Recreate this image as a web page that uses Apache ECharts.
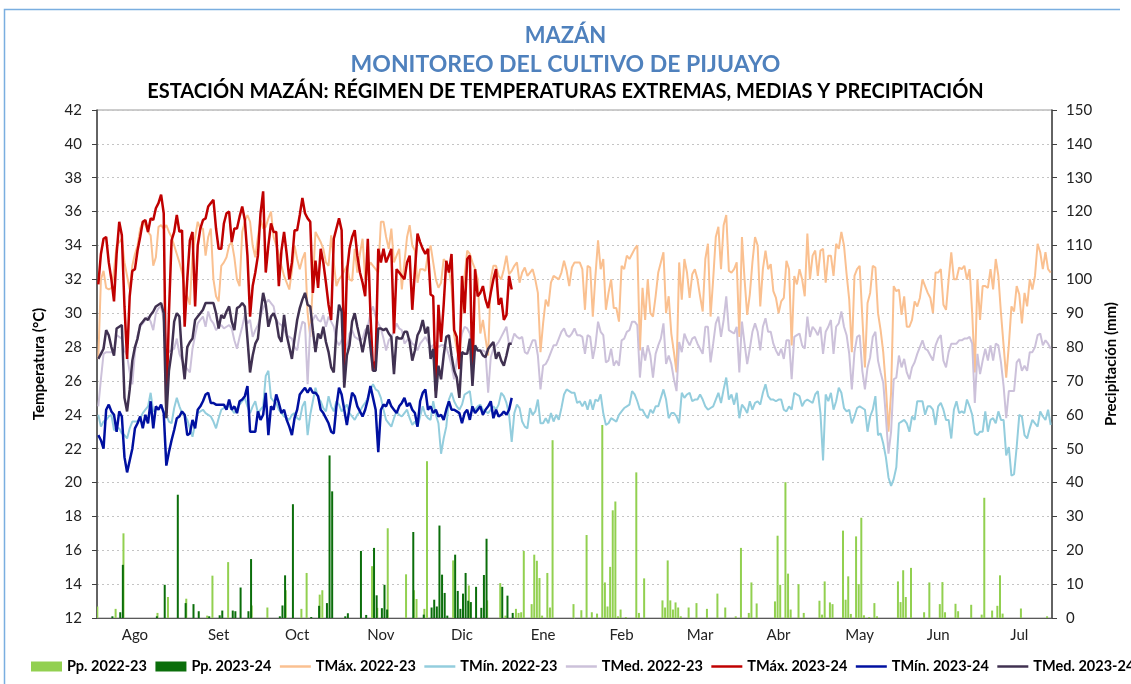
<!DOCTYPE html>
<html>
<head>
<meta charset="utf-8">
<script src="https://cdn.jsdelivr.net/npm/echarts@6/dist/echarts.min.js"></script>
<style>
html, body { margin: 0; padding: 0; background: #fff; }
#chart { width: 1131px; height: 684px; }
</style>
</head>
<body>
<div id="chart"></div>
<script>
// ejes: campaña agosto - julio, un dato por día
const meses = ['Ago', 'Set', 'Oct', 'Nov', 'Dic', 'Ene', 'Feb', 'Mar', 'Abr', 'May', 'Jun', 'Jul'];
const diasPorMes = [31, 30, 31, 30, 31, 31, 28, 31, 30, 31, 30, 31];
// día donde va la etiqueta de cada mes
const etiquetasMes = ['Ago-15', 'Set-16', 'Oct-16', 'Nov-17', 'Dic-18', 'Ene-18', 'Feb-17', 'Mar-19', 'Abr-18', 'May-19', 'Jun-18', 'Jul-19'];

// temperaturas 2022-23 (°C)
const tmax2223 = [
    27.3, 32.0, 32.5, 31.5, 31.4, 31.5, 32.5, 34.0, 34.2, 34.4,
    33.0, 32.2, 31.4, 32.8, 33.5, 34.0, 35.0, 35.4, 35.2, 34.8,
    34.6, 32.8, 33.3, 35.1, 35.2, 35.0, 35.2, 34.8, 34.5, 34.0,
    33.5, 33.0, 32.4, 31.5, 31.0, 30.5, 33.5, 34.5, 35.4, 35.0,
    35.0, 33.4, 34.5, 35.0, 32.0, 31.0, 30.7, 32.8, 33.0, 33.3,
    34.0, 34.2, 33.3, 32.0, 31.6, 34.8, 35.4, 35.8, 35.4, 34.0,
    33.3, 34.5, 35.5, 35.0, 35.1, 35.6, 36.0, 34.5, 34.0, 33.5,
    32.8, 32.2, 31.8, 31.4, 32.5, 34.0, 33.2, 32.6, 33.2, 33.6,
    30.0, 28.6, 31.8, 34.8, 34.5, 34.2, 33.8, 33.0, 32.8, 34.6,
    33.0, 31.6, 32.0, 32.2, 32.5, 32.8, 32.0, 31.9, 33.8, 32.4,
    33.5, 34.4, 32.0, 32.6, 33.0, 32.8, 32.6, 32.4, 35.4, 35.4,
    34.5, 33.8, 35.0, 33.0, 33.4, 33.8, 31.4, 33.0, 34.5, 35.2,
    34.0, 33.7, 31.8, 32.6, 32.6, 32.5, 33.5, 34.0, 33.0, 32.0,
    31.5, 31.8, 33.2, 33.0, 32.6, 31.6, 28.7, 27.9, 27.3, 30.5,
    32.2, 33.7, 33.5, 33.0, 32.6, 32.0, 28.8, 29.6, 28.5, 27.5,
    32.0, 32.8, 32.8, 32.2, 32.0, 32.6, 33.4, 32.3, 32.5, 32.8,
    33.0, 31.8, 32.4, 32.7, 32.2, 32.4, 32.6, 32.0, 31.2, 27.7,
    29.4, 30.8, 30.4, 31.8, 32.2, 32.1, 32.0, 32.4, 33.1, 32.5,
    31.6, 32.7, 33.0, 33.0, 33.0, 32.6, 30.2, 32.8, 32.7, 29.8,
    32.2, 34.3, 32.6, 33.2, 30.2, 31.2, 32.0, 30.3, 30.3, 29.5,
    32.8, 32.6, 33.4, 33.2, 33.5, 33.8, 34.0, 27.8, 31.5, 29.6,
    32.0, 30.0, 29.8, 31.0, 32.4, 33.0, 33.6, 30.0, 31.0, 28.8,
    27.7, 26.5, 33.0, 30.8, 33.2, 32.4, 30.9, 32.3, 32.6, 32.0,
    31.0, 30.1, 33.2, 34.1, 29.8, 32.0, 34.5, 35.1, 32.6, 35.2,
    35.8, 32.5, 32.4, 32.6, 33.0, 28.6, 34.5, 32.0, 29.9, 31.1,
    33.0, 34.5, 34.0, 30.4, 32.6, 33.7, 32.6, 32.9, 31.3, 30.9,
    30.0, 30.7, 30.9, 33.1, 32.6, 28.1, 32.2, 31.7, 32.6, 32.0,
    31.0, 34.7, 32.0, 33.4, 33.7, 32.2, 33.7, 33.8, 31.8, 33.4,
    33.4, 32.2, 34.1, 33.8, 34.8, 34.0, 32.3, 30.8, 27.7, 32.2,
    32.6, 32.8, 29.8, 26.8, 30.6, 31.2, 32.8, 32.7, 30.0, 29.0,
    27.7, 25.7, 23.0, 25.3, 31.6, 31.3, 31.4, 29.9, 31.0, 29.2,
    29.2, 29.6, 30.7, 30.4, 30.9, 32.0, 31.6, 31.2, 30.9, 30.0,
    32.4, 32.4, 32.6, 30.5, 30.2, 32.0, 33.6, 32.0, 32.0, 32.7,
    32.6, 32.8, 32.0, 32.6, 30.0, 26.5, 32.0, 29.6, 31.6, 31.6,
    31.5, 32.6, 31.4, 33.2, 32.2, 30.0, 28.1, 26.2, 28.1, 30.4,
    30.1, 31.6, 31.1, 29.4, 31.2, 30.4, 32.0, 31.4, 32.2, 34.1,
    33.6, 32.6, 33.6, 32.6, 32.4
];
const tmin2223 = [
    24.0, 23.3, 23.6, 23.7, 23.9, 24.0, 23.1, 23.2, 23.2, 22.9,
    22.8, 22.6, 23.2, 23.6, 23.6, 23.6, 23.8, 24.1, 24.3, 24.5,
    25.3, 24.2, 24.3, 24.4, 24.5, 24.2, 24.0, 23.6, 23.5, 24.4,
    25.0, 24.5, 24.1, 24.0, 23.7, 23.2, 22.7, 23.5, 24.1, 24.2,
    24.3, 24.1, 24.0, 23.9, 23.6, 23.2, 23.8, 24.3, 24.4, 24.5,
    24.5, 24.3, 24.1, 24.4, 24.6, 24.8, 25.0, 24.5, 24.1, 24.5,
    24.8, 24.1, 24.3, 24.5, 26.3, 26.6, 25.0, 24.8, 24.7, 24.3,
    24.1, 23.9, 23.8, 23.7, 24.0, 24.1, 23.8, 23.7, 24.5, 24.8,
    22.8, 24.0, 24.8, 25.6, 25.0, 24.8, 24.4, 24.2, 25.1, 24.5,
    24.2, 24.8, 24.6, 24.2, 24.4, 24.6, 24.1, 23.9, 23.7, 24.0,
    24.2, 24.5, 24.7, 25.0, 25.5, 25.8, 25.5, 25.4, 25.0, 24.3,
    23.7, 23.5, 23.3, 23.8, 24.2, 24.0, 23.9, 24.1, 24.3, 23.8,
    23.4, 23.6, 23.3, 23.9, 24.5, 24.0, 23.8, 23.7, 24.8, 24.0,
    23.5, 21.7, 22.6, 23.3, 24.9, 25.3, 24.8, 24.5, 24.3, 24.6,
    25.2, 25.3, 25.4, 24.2, 24.3, 24.5, 24.6, 24.3, 24.2, 24.1,
    24.3, 24.5, 24.3, 24.6, 25.3, 25.1, 24.7, 24.0, 22.4, 24.1,
    24.6, 24.4, 23.6, 23.3, 23.2, 24.4, 24.0, 24.2, 24.9, 23.5,
    23.5, 23.8, 23.5, 24.1, 23.6, 24.0, 23.7, 24.4, 25.2, 25.5,
    25.4, 25.3, 25.3, 24.7, 24.8, 24.5, 24.8, 24.3, 24.9, 24.3,
    24.9, 24.8, 25.2, 24.1, 23.4, 23.5, 23.8, 23.7, 23.6, 24.0,
    24.2, 24.4, 24.5, 24.6, 25.4, 25.2, 24.8, 24.3, 24.3, 24.0,
    23.8, 24.3, 24.1, 24.5, 24.5, 25.0, 25.5, 24.9, 23.8, 24.1,
    24.1, 23.9, 23.5, 25.3, 25.0, 25.2, 25.3, 24.8, 24.9, 24.9,
    25.2, 24.9, 24.5, 24.3, 24.4, 24.5, 24.9, 25.3, 24.7, 25.5,
    26.2, 24.9, 25.2, 24.6, 25.3, 23.8, 24.6, 24.4, 24.1, 24.8,
    24.3, 24.7, 24.8, 24.6, 25.3, 25.8, 25.1, 24.9, 24.9, 24.8,
    24.9, 24.9, 24.3, 24.2, 24.5, 24.3, 25.3, 25.2, 25.1, 24.5,
    24.8, 24.9, 24.8, 24.7, 25.2, 25.4, 24.1, 21.3, 25.2, 24.8,
    25.3, 24.3, 24.8, 25.6, 25.3, 24.4, 24.2, 24.3, 23.5, 23.9,
    24.4, 24.5, 24.4, 24.3, 23.0, 23.9, 24.3, 25.1, 22.8, 22.9,
    22.3, 21.5, 20.3, 19.8, 20.2, 20.9, 23.5, 23.6, 23.7, 23.5,
    23.0, 23.9, 23.7, 24.8, 24.8, 24.8, 24.0, 24.5, 24.5, 24.3,
    23.4, 24.5, 24.7, 24.3, 23.7, 23.7, 22.6, 24.3, 24.8, 24.1,
    24.2, 24.1, 24.9, 24.5, 24.0, 22.9, 22.8, 23.0, 23.0, 24.2,
    23.0, 23.7, 23.8, 23.5, 24.2, 23.7, 23.7, 21.6, 22.1, 20.4,
    20.5, 22.1, 24.0, 23.9, 22.8, 22.6, 23.2, 23.7, 23.5, 23.3,
    24.2, 23.9, 23.7, 24.3, 23.4
];
const tmed2223 = [
    24.5, 26.1, 27.6, 27.7, 27.7, 27.7, 27.7, 28.7, 28.6, 28.5,
    27.8, 27.5, 26.5, 25.8, 27.7, 28.7, 29.2, 29.4, 29.6, 29.8,
    29.5, 29.0, 30.0, 30.3, 30.4, 29.6, 28.2, 27.7, 27.8, 27.9,
    28.5, 27.6, 27.2, 26.9, 26.7, 26.5, 27.9, 28.7, 29.4, 29.6,
    29.8, 29.2, 30.1, 29.6, 29.4, 29.0, 29.2, 29.3, 29.1, 29.2,
    29.3, 29.1, 28.4, 27.9, 28.6, 29.2, 29.9, 29.4, 29.6, 28.6,
    29.0, 29.3, 29.8, 30.3, 30.6, 30.8, 30.6, 30.4, 29.6, 29.4,
    29.3, 29.0, 28.7, 28.6, 28.5, 28.0, 27.8, 28.8, 29.5, 29.4,
    25.8, 29.2, 29.6, 29.9, 29.6, 29.5, 29.9, 29.2, 29.8, 29.5,
    29.2, 28.4, 28.1, 28.4, 28.6, 27.8, 28.8, 29.0, 28.6, 28.5,
    28.4, 28.5, 29.0, 29.2, 30.0, 30.4, 29.8, 29.4, 29.1, 28.5,
    27.8, 28.4, 28.6, 28.9, 29.4, 29.1, 29.0, 28.2, 28.4, 28.5,
    28.2, 28.1, 27.8, 28.2, 28.4, 28.6, 28.3, 28.0, 28.1, 28.3,
    28.0, 28.1, 28.1, 28.0, 27.5, 26.9, 26.1, 27.2, 28.0, 28.8,
    29.2, 29.1, 28.8, 27.8, 27.8, 27.8, 27.8, 27.8, 27.7, 25.3,
    27.4, 27.9, 28.1, 28.3, 28.6, 28.9, 29.2, 28.1, 28.3, 28.8,
    28.6, 28.5, 28.6, 27.7, 27.6, 28.0, 28.4, 28.4, 27.5, 25.5,
    26.9, 27.0, 27.3, 27.7, 28.1, 28.1, 28.5, 28.9, 29.1, 28.7,
    28.6, 28.8, 29.1, 28.7, 28.7, 28.6, 27.6, 28.7, 28.6, 27.3,
    28.1, 29.5, 28.9, 28.7, 27.1, 27.2, 27.9, 26.9, 27.2, 26.9,
    28.4, 28.5, 28.9, 29.0, 29.5, 29.5, 29.3, 26.2, 28.0, 27.2,
    28.1, 27.5, 26.2, 27.6, 28.1, 28.5, 29.4, 27.0, 27.5, 27.0,
    26.1, 25.4, 28.3, 27.7, 28.8, 28.4, 28.1, 28.5, 28.6, 28.2,
    27.9, 27.6, 29.2, 29.2, 27.1, 28.2, 29.4, 29.8, 28.6, 29.6,
    31.0, 29.0, 28.9, 28.8, 29.2, 26.5, 29.5, 28.2, 27.0, 27.9,
    28.9, 29.4, 28.9, 27.8, 29.2, 29.7, 28.9, 28.9, 28.2, 27.8,
    27.5, 27.9, 27.3, 28.4, 28.4, 26.1, 28.6, 28.7, 28.8, 28.1,
    27.9, 29.8, 28.6, 29.2, 29.0, 28.7, 29.2, 27.6, 28.9, 29.2,
    29.6, 27.6, 29.2, 29.4, 30.1, 29.2, 28.7, 27.6, 25.5, 27.7,
    28.6, 28.7, 26.6, 25.5, 26.8, 27.4, 28.6, 28.9, 27.2, 26.5,
    25.9, 23.9, 21.7, 23.0, 26.1, 26.2, 27.5, 26.8, 27.3, 26.5,
    26.1, 26.8, 27.1, 27.6, 28.0, 28.4, 27.9, 27.8, 27.5, 27.2,
    28.1, 28.5, 28.7, 27.2, 26.8, 27.7, 28.2, 28.2, 28.2, 28.4,
    28.4, 28.5, 28.5, 28.6, 28.2, 24.7, 27.6, 26.4, 27.2, 27.9,
    27.2, 28.1, 27.2, 28.2, 28.1, 27.1, 25.7, 23.8, 25.4, 25.4,
    25.4, 27.1, 27.3, 26.6, 26.9, 26.6, 27.7, 27.7, 28.0, 28.7,
    28.8, 28.1, 28.4, 28.2, 27.9
];

// temperaturas 2023-24 (°C), hasta inicios de enero
const tmax2324 = [
    31.7, 33.5, 34.4, 34.5, 33.0, 32.0, 30.7, 33.5, 35.4, 34.6,
    30.4, 27.3, 31.0, 32.5, 32.6, 33.7, 34.5, 35.4, 35.5, 34.8,
    35.6, 35.5, 36.2, 36.5, 37.0, 35.9, 24.1, 30.0, 34.3, 34.8,
    35.8, 34.8, 34.9, 29.2, 32.0, 34.3, 34.8, 30.4, 34.0, 35.0,
    35.5, 35.6, 36.3, 36.5, 36.7, 35.0, 33.8, 33.8, 35.3, 35.9,
    36.0, 34.2, 35.0, 35.0, 35.7, 36.3, 35.5, 33.4, 29.8, 31.6,
    32.4, 33.4, 35.9, 37.2, 32.4, 34.0, 35.3, 34.8, 34.8, 31.6,
    33.7, 34.8, 33.5, 32.0, 33.0, 34.9, 34.9, 35.8, 36.8, 35.9,
    35.6, 35.4, 31.2, 33.1, 31.5, 33.8, 33.0, 31.8, 30.5, 29.6,
    34.4, 35.0, 35.6, 34.9, 26.9, 32.4, 33.8, 34.5, 34.9, 33.4,
    32.4, 31.8, 31.0, 34.4, 30.0, 26.6, 27.2, 33.8, 33.0, 33.8,
    33.0, 33.4, 33.8, 28.8, 32.6, 32.4, 32.2, 32.0, 33.0, 33.4,
    30.2, 32.5, 34.7, 34.2, 33.8, 33.5, 33.8, 31.1, 31.0, 25.4,
    30.5, 28.3, 30.5, 33.1, 32.4, 33.5, 29.0, 28.6, 26.7, 32.2,
    30.0, 33.2, 33.4, 26.2, 32.6, 31.0, 31.2, 31.6, 30.8, 30.3,
    31.2, 32.0, 32.6, 30.5, 30.9, 29.6, 29.9, 32.2, 31.4
];
const tmin2324 = [
    22.8, 22.5, 22.0, 24.3, 24.6, 24.2, 24.0, 23.0, 24.2, 23.9,
    21.5, 20.6, 21.3, 22.0, 23.2, 23.5, 23.9, 23.2, 24.0, 23.5,
    24.8, 23.2, 24.5, 24.3, 24.6, 24.1, 21.0, 21.8, 22.5, 23.1,
    23.8, 23.9, 24.2, 24.0, 22.8, 22.9, 23.7, 23.2, 24.3, 24.5,
    24.8, 25.2, 25.3, 24.7, 24.7, 24.6, 24.6, 24.6, 24.6, 24.3,
    24.9, 24.3, 24.5, 24.1, 24.8, 24.9, 25.1, 25.7, 23.0, 23.0,
    23.0, 24.2, 23.7, 24.0, 25.3, 22.8, 24.5, 24.3, 25.2, 24.7,
    24.1, 24.3, 23.7, 23.3, 22.8, 23.8, 24.3, 25.2, 25.4, 25.6,
    25.3, 25.6, 25.3, 25.3, 25.1, 24.3, 24.1, 23.8, 23.5, 23.0,
    22.9, 24.5, 25.6, 25.2, 24.3, 23.4, 24.4, 25.3, 25.1, 24.5,
    24.2, 23.9, 24.3, 24.9, 25.7, 25.0, 24.3, 21.8, 24.3, 24.6,
    24.5, 24.9, 24.5, 24.3, 24.1, 24.5, 24.7, 25.0, 24.5, 24.7,
    24.3, 24.1, 23.3, 24.8, 25.3, 25.5, 24.3, 24.5, 24.1, 24.3,
    23.9, 24.0, 23.7, 24.3, 24.8, 24.3, 24.3, 24.2, 24.1, 23.5,
    24.1, 24.3, 23.7, 24.5, 24.1, 24.3, 24.5, 24.0, 24.3, 24.5,
    24.8, 23.8, 24.3, 23.9, 24.0, 24.2, 24.0, 24.3, 25.0
];
const tmed2324 = [
    27.3, 27.6, 27.9, 29.0, 28.7, 28.0, 27.5, 29.1, 29.2, 29.3,
    25.0, 24.2, 25.5, 27.2, 28.0, 28.5, 29.3, 29.5, 29.7, 29.6,
    29.9, 30.1, 30.4, 30.5, 30.6, 30.0, 23.8, 26.6, 27.7, 29.5,
    30.0, 29.8, 27.5, 26.1, 28.0, 28.3, 28.5, 29.6, 29.8, 30.0,
    30.2, 30.6, 30.6, 30.6, 30.6, 30.0, 29.1, 29.9, 29.7, 30.1,
    30.4, 29.5, 29.0, 30.3, 30.4, 30.6, 30.4, 28.5, 26.5, 27.5,
    28.2, 28.5, 30.0, 31.2, 30.5, 29.2, 29.8, 30.0, 29.6, 28.6,
    28.3, 29.9, 28.7, 28.0, 27.3, 28.5, 29.6, 30.3, 30.8, 31.2,
    30.5, 30.4, 29.0, 27.7, 28.8, 28.5, 29.2, 28.3, 27.7, 26.8,
    26.5, 29.0, 30.5, 30.1, 25.6, 27.5, 28.1, 29.5, 30.0, 29.2,
    28.5, 27.7, 28.5, 29.3, 28.0, 26.6, 26.6, 29.1, 29.1, 29.0,
    29.1, 28.8, 28.6, 26.4, 28.6, 28.5, 28.5, 28.9, 28.9, 28.3,
    27.2, 27.8, 28.7, 29.0, 29.6, 28.8, 29.2, 27.3, 27.9, 25.0,
    26.9, 26.1, 27.5, 28.6, 28.7, 27.5, 26.6, 26.2, 25.0, 27.7,
    27.6, 27.6, 28.5, 25.7, 28.1, 27.8, 27.8, 27.5, 27.4, 27.9,
    28.1, 28.3, 27.3, 27.7, 27.2, 26.9, 27.5, 28.2, 28.2
];

// precipitación (mm): día de la campaña (0 = 1 ago) y lámina
const ppDias2223 = [0, 7, 10, 23, 27, 34, 42, 44, 50, 59, 65, 72, 78, 80, 85, 86, 105, 107, 111, 118,
    121, 122, 125, 126, 136, 142, 149, 154, 156, 160, 161, 162, 163, 166, 167, 168, 169, 170, 172, 173,
    174, 182, 185, 187, 189, 191, 193, 194, 195, 196, 197, 198, 199, 200, 202, 206, 207, 209, 216, 217,
    218, 219, 220, 221, 222, 223, 226, 229, 233, 237, 240, 244, 246, 249, 250, 252, 259, 260, 261, 263,
    264, 265, 268, 270, 276, 277, 278, 280, 281, 285, 286, 287, 288, 290, 291, 292, 293, 295, 297, 298,
    306, 307, 308, 309, 311, 316, 318, 322, 323, 324, 328, 329, 334, 338, 339, 342, 344, 345, 346, 353, 363];
const ppMm2223 = [3.4, 2.7, 25, 1.5, 6.2, 5.7, 0.7, 12.5, 16.5, 3.7, 3.1, 8.2, 2.7, 13.3, 6.9, 8.2, 15.3, 3, 26.5, 12.9,
    8.2, 5.6, 2.7, 46.3, 17, 9.6, 5.2, 10.3, 0.7, 2.7, 1.5, 1.7, 19.8, 4.1, 18.7, 16.9, 11.8, 0.7, 13.3, 3.1,
    52.5, 4.1, 2.3, 24.5, 1.7, 1.3, 57, 10.5, 3.4, 15.1, 31.8, 34.4, 0.5, 2.5, 0.3, 43, 1.5, 11.7, 5.2, 3.1,
    17, 5.2, 2.5, 4.6, 3.1, 0.5, 3.1, 4.4, 2.7, 7.2, 3.1, 0.5, 20.7, 1.5, 10.5, 4.3, 4.9, 24.3, 9.8, 40.1,
    13.1, 2.5, 10, 1.5, 5.1, 1, 10.8, 4.6, 4.1, 25.8, 5.4, 12.3, 1.2, 24.1, 10, 29.6, 0.8, 0.3, 4.4, 0.5,
    10.8, 4.7, 14.1, 6.2, 14.8, 1.7, 10.5, 4.1, 10.6, 1.7, 4.2, 2, 3.9, 1, 35.5, 2.2, 3.6, 12.6, 1.3, 2.8, 0.5];
const ppDias2324 = [5, 8, 9, 22, 25, 30, 33, 36, 38, 42, 46, 47, 51, 52, 54, 57, 58, 69, 70, 71,
    74, 81, 84, 87, 88, 89, 94, 95, 100, 102, 105, 106, 108, 109, 110, 120, 124, 127, 128, 129,
    130, 131, 132, 133, 136, 137, 138, 139, 140, 141, 142, 144, 146, 147, 148, 154, 156, 158];
const ppMm2324 = [0.5, 1.7, 15.7, 0.5, 9.8, 36.4, 4.4, 4.1, 2, 0.5, 0.8, 2.2, 2.2, 2, 9, 2, 17.4, 0.5, 3.7, 12.6,
    33.6, 0.3, 3.6, 4.4, 48, 37.4, 0.5, 1.4, 19.8, 0.9, 20.7, 6.7, 2.9, 9.8, 2.5, 25.4, 1, 3.1, 5.4, 3.4,
    27.3, 12.8, 7.4, 0.7, 18.7, 8, 2.7, 7.2, 13.3, 5.1, 4.7, 9.2, 3, 12.7, 23.4, 9.2, 6.6, 1.5];

const dias = [];
meses.forEach((m, i) => {
    for (let d = 1; d <= diasPorMes[i]; d++) dias.push(m + '-' + d);
});

function serieDiaria(indices, valores) {
    const out = new Array(dias.length).fill(null);
    indices.forEach((d, i) => { out[d] = valores[i]; });
    return out;
}
const pp2223 = serieDiaria(ppDias2223, ppMm2223);
const pp2324 = serieDiaria(ppDias2324, ppMm2324);

const FONT = 'Lato';
const ICONO_LINEA = 'path://M0,0H30V2.4H0Z';
const chart = echarts.init(document.getElementById('chart'));

function linea(name, data, color, width) {
    return {
        name, type: 'line', data, symbol: 'none', yAxisIndex: 0,
        lineStyle: { color, width }, itemStyle: { color }
    };
}

chart.setOption({
    animation: false,
    backgroundColor: '#fff',
    title: [
        { text: 'MAZÁN', left: 'center', top: 20, textStyle: { fontFamily: FONT, fontSize: 22, fontWeight: 'bold', color: '#4f81bd' } },
        { text: 'MONITOREO DEL CULTIVO DE PIJUAYO', left: 'center', top: 48, textStyle: { fontFamily: FONT, fontSize: 23, fontWeight: 'bold', color: '#4f81bd' } },
        { text: 'ESTACIÓN MAZÁN: RÉGIMEN DE TEMPERATURAS EXTREMAS, MEDIAS Y PRECIPITACIÓN', left: 'center', top: 77, textStyle: { fontFamily: FONT, fontSize: 20, fontWeight: 'bold', color: '#000' } }
    ],
    // marco del gráfico (borde izquierdo y superior visibles)
    graphic: [{
        type: 'polyline', z: -1, silent: true,
        shape: { points: [[4.5, 690], [4.5, 9.5], [1120, 9.5]] },
        style: { fill: 'none', stroke: '#7aaee0', lineWidth: 1.5 }
    }],
    legend: {
        left: 26, top: 654, width: 1400,
        itemWidth: 31, itemHeight: 10, itemGap: 8.5,
        textStyle: { fontFamily: FONT, fontSize: 14.5, fontWeight: 'bold', color: '#000' },
        data: [
            { name: 'Pp. 2022-23', icon: 'rect' },
            { name: 'Pp. 2023-24', icon: 'rect' },
            { name: 'TMáx. 2022-23', icon: ICONO_LINEA },
            { name: 'TMín. 2022-23', icon: ICONO_LINEA },
            { name: 'TMed. 2022-23', icon: ICONO_LINEA },
            { name: 'TMáx. 2023-24', icon: ICONO_LINEA },
            { name: 'TMín. 2023-24', icon: ICONO_LINEA },
            { name: 'TMed. 2023-24', icon: ICONO_LINEA }
        ]
    },
    grid: { left: 97, right: 79, top: 110, bottom: 66, show: true, borderColor: '#9a9a9a', borderWidth: 1 },
    xAxis: {
        type: 'category', data: dias, boundaryGap: true,
        axisLine: { lineStyle: { color: '#595959', width: 1 } },
        axisTick: { interval: (i) => i % 31 === 0, length: 5, lineStyle: { color: '#595959' } },
        axisLabel: {
            interval: (i, v) => etiquetasMes.indexOf(v) >= 0,
            formatter: (v) => v.split('-')[0],
            fontFamily: FONT, fontSize: 15, color: '#222', margin: 10
        },
        splitLine: { show: false }
    },
    yAxis: [{
        type: 'value', min: 12, max: 42, interval: 2, position: 'left',
        name: 'Temperatura (°C)', nameLocation: 'middle', nameGap: 50, nameRotate: 90,
        nameTextStyle: { fontFamily: FONT, fontSize: 15, fontWeight: 'bold', color: '#000' },
        axisLine: { show: true, lineStyle: { color: '#404040', width: 1.5 } },
        axisTick: { show: true, length: 5, lineStyle: { color: '#404040' } },
        axisLabel: { fontFamily: FONT, fontSize: 15, color: '#222', margin: 15 },
        splitLine: { show: true, lineStyle: { color: '#c4c4c4', type: [2, 3], width: 1 } }
    }, {
        type: 'value', min: 0, max: 150, interval: 10, position: 'right',
        name: 'Precipitación (mm)', nameLocation: 'middle', nameGap: 52, nameRotate: 90,
        nameTextStyle: { fontFamily: FONT, fontSize: 15, fontWeight: 'bold', color: '#000' },
        axisLine: { show: true, lineStyle: { color: '#404040', width: 1.5 } },
        axisTick: { show: true, length: 5, lineStyle: { color: '#404040' } },
        axisLabel: { fontFamily: FONT, fontSize: 15, color: '#222', margin: 14 },
        splitLine: { show: false }
    }],
    series: [
        { name: 'Pp. 2022-23', type: 'bar', yAxisIndex: 1, data: pp2223, barWidth: 2, barGap: '0%', itemStyle: { color: '#92d050' } },
        { name: 'Pp. 2023-24', type: 'bar', yAxisIndex: 1, data: pp2324, barWidth: 2, barGap: '0%', itemStyle: { color: '#0b6e0b' } },
        linea('TMáx. 2022-23', tmax2223, '#fac090', 2),
        linea('TMín. 2022-23', tmin2223, '#93cddd', 2),
        linea('TMed. 2022-23', tmed2223, '#ccc1da', 2),
        linea('TMáx. 2023-24', tmax2324, '#c00000', 2.5),
        linea('TMín. 2023-24', tmin2324, '#0010a0', 2.5),
        linea('TMed. 2023-24', tmed2324, '#403151', 2.5)
    ]
});
</script>
</body>
</html>
